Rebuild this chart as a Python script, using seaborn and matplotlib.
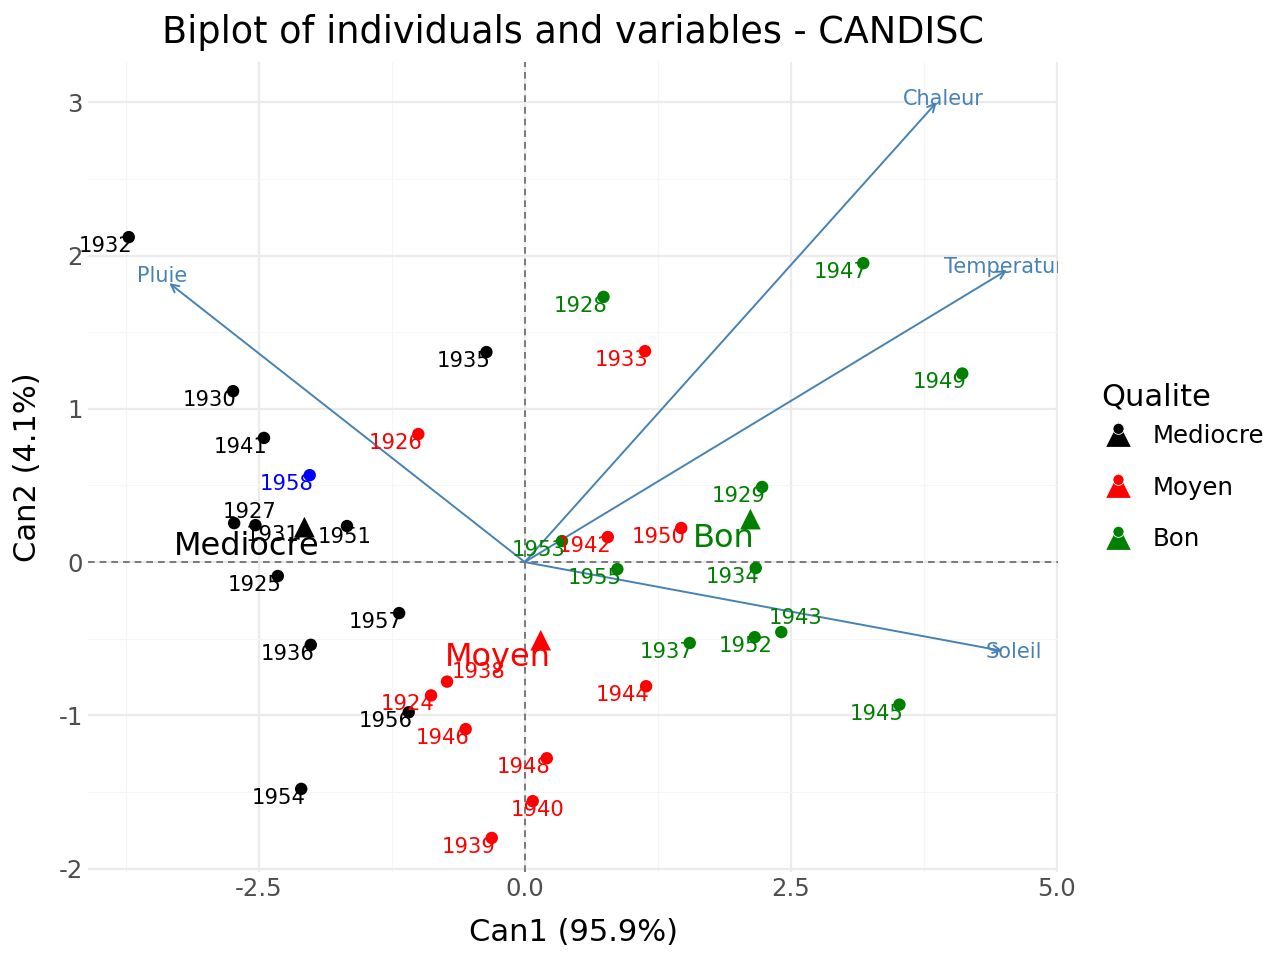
import matplotlib
matplotlib.use("Agg")
import matplotlib.pyplot as plt
from matplotlib.lines import Line2D
from matplotlib.markers import MarkerStyle
from matplotlib.transforms import Affine2D, offset_copy
from matplotlib.legend_handler import HandlerTuple
import pandas as pd
import seaborn as sns

# individuals (years) on the two canonical axes
years = ['1932', '1935', '1930', '1941', '1927', '1931', '1951', '1925', '1957', '1936', '1956', '1954', '1958',
         '1926', '1933', '1950', '1942', '1938', '1924', '1946', '1944', '1948', '1940', '1939',
         '1947', '1928', '1949', '1929', '1953', '1955', '1934', '1943', '1952', '1937', '1945']
can1 = [-3.72, -0.36, -2.74, -2.45, -2.73, -2.53, -1.67, -2.32, -1.18, -2.01, -1.09, -2.10, -2.02,
        -1.00, 1.13, 1.47, 0.78, -0.73, -0.88, -0.555, 1.14, 0.207, 0.075, -0.31,
        3.18, 0.74, 4.11, 2.23, 0.35, 0.87, 2.17, 2.41, 2.16, 1.55, 3.52]
can2 = [2.12, 1.37, 1.115, 0.81, 0.254, 0.241, 0.235, -0.091, -0.333, -0.54, -0.98, -1.48, 0.567,
        0.835, 1.376, 0.222, 0.163, -0.78, -0.87, -1.09, -0.81, -1.28, -1.56, -1.80,
        1.95, 1.73, 1.23, 0.49, 0.137, -0.046, -0.039, -0.457, -0.49, -0.528, -0.93]
qualite = ['Mediocre'] * 12 + ['NA'] + ['Moyen'] * 11 + ['Bon'] * 11

# group centroids
groups = ['Mediocre', 'Moyen', 'Bon']
cent_can1 = [-2.07, 0.15, 2.12]
cent_can2 = [0.228, -0.51, 0.28]

# variables (arrows)
variables = ['Chaleur', 'Temperature', 'Pluie', 'Soleil']
var_can1 = [3.87, 4.53, -3.34, 4.49]
var_can2 = [3.00, 1.905, 1.82, -0.58]

colours = {'Mediocre': 'black', 'Moyen': 'red', 'Bon': 'green', 'NA': 'blue'}

df = pd.DataFrame({'annee': years, 'Can1': can1, 'Can2': can2, 'Qualite': qualite})
cent = pd.DataFrame({'Qualite': groups, 'Can1': cent_can1, 'Can2': cent_can2})

sns.set_style("white")
plt.rcParams['font.family'] = ['DejaVu Sans']
plt.rcParams['axes.unicode_minus'] = False
plt.rcParams['text.color'] = 'black'
plt.rcParams['axes.labelcolor'] = 'black'

fig, ax = plt.subplots(figsize=(6.4, 4.8), dpi=200)
fig.subplots_adjust(left=0.069, right=0.8266, bottom=0.092, top=0.935)

# grid like theme_minimal
ax.set_xticks([-3.75, -1.25, 1.25, 3.75], minor=True)
ax.set_yticks([-1.5, -0.5, 0.5, 1.5, 2.5], minor=True)
ax.set_xticks([-2.5, 0.0, 2.5, 5.0])
ax.set_yticks([-2, -1, 0, 1, 2, 3])
ax.grid(which='major', color='#EBEBEB', linewidth=0.8)
ax.grid(which='minor', color='#F5F5F5', linewidth=0.4)
ax.set_axisbelow(True)
for s in ax.spines.values():
    s.set_visible(False)
ax.tick_params(which='both', length=0, labelsize=8.8, labelcolor='#4D4D4D', pad=2)

ax.axhline(0, color='#666666', linestyle=(0, (4, 3)), linewidth=0.6, zorder=1)
ax.axvline(0, color='#666666', linestyle=(0, (4, 3)), linewidth=0.6, zorder=1)

# variable arrows
var_off = {'Chaleur': (2.5, 1.1), 'Temperature': (1.2, 1.1), 'Pluie': (-2.5, 2.5), 'Soleil': (4.0, -0.4)}
for name, vx, vy in zip(variables, var_can1, var_can2):
    ax.annotate('', xy=(vx, vy), xytext=(0, 0),
                arrowprops=dict(arrowstyle='->', color='steelblue', lw=0.7, mutation_scale=7, shrinkA=0, shrinkB=0))
    dx, dy = var_off[name]
    tr = offset_copy(ax.transData, fig=fig, x=dx, y=dy, units='points')
    ax.text(vx, vy, name, transform=tr, color='steelblue', fontsize=7.5,
            ha='center', va='center', clip_on=True)

# individuals
sns.scatterplot(data=df, x='Can1', y='Can2', hue='Qualite', palette=colours, s=20, linewidth=0,
                legend=False, ax=ax, zorder=3)

# label offsets in points (most labels sit left-below the point)
special = {'1927': (5.4, 4.0), '1931': (6.1, -3.6), '1951': (-0.7, -4.0), '1938': (11.2, 3.6),
           '1940': (1.8, -3.2), '1943': (5.0, 5.0), '1952': (-3.2, -3.2)}
for _, r in df.iterrows():
    off = special.get(r['annee'], (-8.3, -3.2))
    ax.annotate(r['annee'], (r['Can1'], r['Can2']), xytext=off, textcoords='offset points',
                ha='center', va='center', fontsize=7.6, color=colours[r['Qualite']], zorder=4)

# centroids
sns.scatterplot(data=cent, x='Can1', y='Can2', hue='Qualite', palette=colours, marker='^', s=55,
                linewidth=0, legend=False, ax=ax, zorder=4)
cent_off = {'Mediocre': (-20.9, -6.8), 'Moyen': (-15.5, -6.1), 'Bon': (-9.7, -6.8)}
for g, cx, cy in zip(groups, cent_can1, cent_can2):
    ax.annotate(g, (cx, cy), xytext=cent_off[g], textcoords='offset points',
                ha='center', va='center', fontsize=11.5, color=colours[g], zorder=5)

ax.set_xlim(-4.1, 5.01)
ax.set_ylim(-2.02, 3.26)
ax.set_xticklabels(['-2.5', '0.0', '2.5', '5.0'])
ax.set_xlabel('Can1 (95.9%)', fontsize=11, labelpad=6)
ax.set_ylabel('Can2 (4.1%)', fontsize=11, labelpad=6)
ax.set_title('Biplot of individuals and variables - CANDISC', fontsize=13.2, pad=7)

# legend keys: triangle with the point glyph sitting on its top
dot_marker = MarkerStyle('o', transform=Affine2D().translate(0, 0.6))
handles = []
for g in groups:
    tri = Line2D([], [], marker='^', color=colours[g], linestyle='', markersize=7.2)
    dot = Line2D([], [], marker=dot_marker, color=colours[g], linestyle='', markersize=4.0,
                 markeredgecolor='white', markeredgewidth=0.3)
    handles.append((tri, dot))
leg = ax.legend(handles, groups, handler_map={tuple: HandlerTuple(ndivide=1)}, title='Qualite',
                loc='center left', bbox_to_anchor=(1.022, 0.5), frameon=False, fontsize=8.8,
                title_fontsize=11, labelspacing=1.12, handletextpad=0.7, handlelength=1.4)
leg._legend_box.align = 'left'
leg._legend_box.sep = 4.5

plt.savefig('out.png', dpi=200)
